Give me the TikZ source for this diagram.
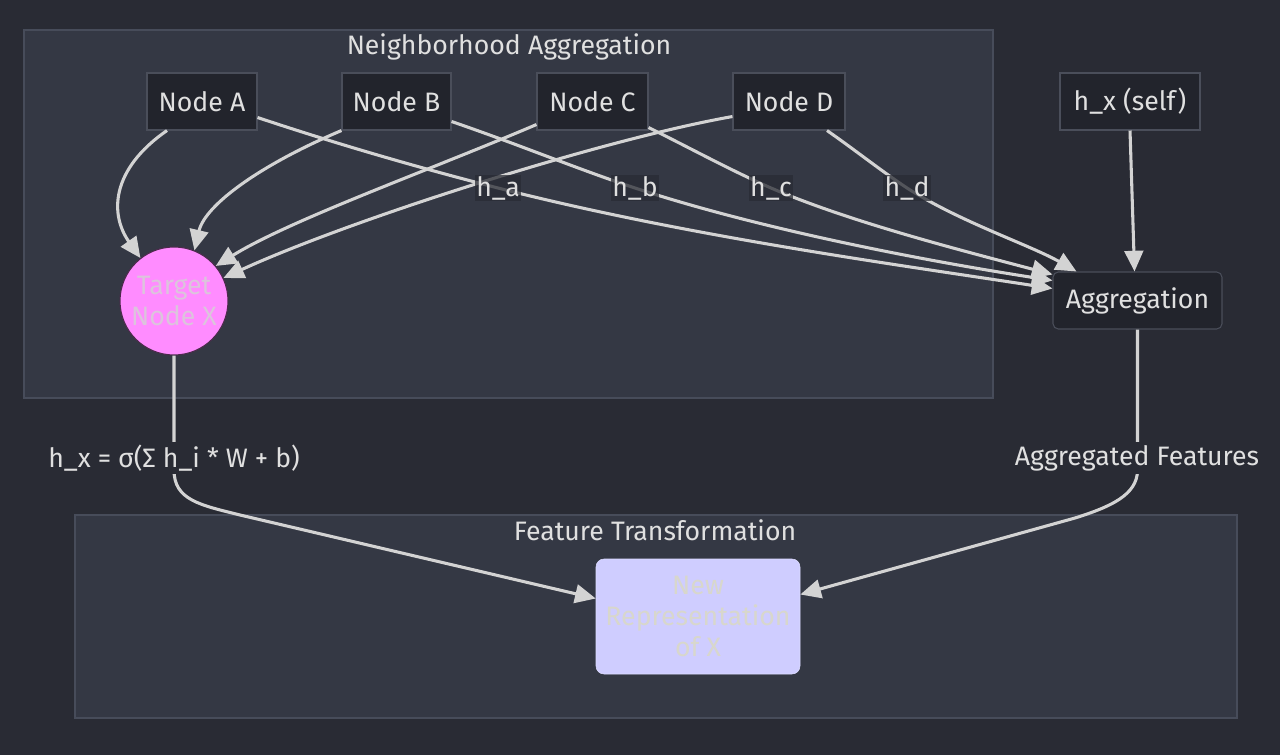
\documentclass[tikz,border=0pt]{standalone}
\usepackage{fontspec}
\setmainfont{Fira Sans}
\usetikzlibrary{arrows.meta,calc}
\definecolor{bgc}{HTML}{292B34}
\definecolor{clfill}{HTML}{343844}
\definecolor{cldraw}{HTML}{474C5A}
\definecolor{ndfill}{HTML}{22242C}
\definecolor{nddraw}{HTML}{4A4E5A}
\definecolor{edgec}{HTML}{D3D3D3}
\definecolor{txtc}{HTML}{E0E0E0}
\definecolor{pinkc}{HTML}{FF8CFF}
\definecolor{pinktxt}{HTML}{DCC4DC}
\definecolor{lavc}{HTML}{CFCDFF}
\definecolor{lavtxt}{HTML}{D8D7CC}
\begin{document}
\begin{tikzpicture}[x=0.75pt,y=-0.75pt,
  txt/.style={font=\fontsize{20}{23}\selectfont, text=txtc},
  nbox/.style={txt, draw=nddraw, fill=ndfill, line width=0.8pt, inner sep=0pt, minimum height=42.75pt},
  rbox/.style={nbox, rounded corners=4pt},
  elabel/.style={txt, fill=bgc, fill opacity=0.75, text opacity=1, inner sep=1pt},
  flabel/.style={txt, fill=bgc, inner sep=2pt},
  edge/.style={draw=edgec, line width=2.3pt, -{Triangle[length=15.5pt,width=14pt]}},
  cluster/.style={draw=cldraw, fill=clfill, line width=0.8pt}]
\useasboundingbox (0,0) rectangle (1280,755);
\fill[bgc] (0,0) rectangle (1280,755);
% clusters
\draw[cluster] (24,30) rectangle (993,398);
\node[txt] (t1) at (509,47) {Neighborhood Aggregation};
\draw[cluster] (75,515) rectangle (1237,718);
\node[txt] (t2) at (655,530) {Feature Transformation};
% nodes
\node[nbox, minimum width=82.5pt] (A) at (202,101.5) {Node A};
\node[nbox, minimum width=81.75pt] (B) at (396.5,101.5) {Node B};
\node[nbox, minimum width=83.25pt] (C) at (592.5,101.5) {Node C};
\node[nbox, minimum width=84pt] (D) at (789,101.5) {Node D};
\node[nbox, minimum width=105pt] (hx) at (1130,101.5) {h\_x (self)};
\node[rbox, minimum width=126.75pt] (Agg) at (1137.5,300.5) {Aggregation};
\node[circle, draw=black!70!pinkc, line width=0.8pt, fill=pinkc, minimum size=81pt, inner sep=0pt,
  font=\fontsize{20}{23}\selectfont, text=pinktxt, align=center] (X) at (174,301) {Target\\Node X};
\node[draw=lavc!70!white, fill=lavc, rounded corners=6pt, minimum width=153pt, minimum height=86.25pt,
  inner sep=0pt, font=\fontsize{20}{23}\selectfont, text=lavtxt, align=center] (NR) at (698,616.5) {New\\Representation\\of X};
% label anchor points
\coordinate (ma) at (498,188);
\coordinate (mb) at (635,188);
\coordinate (mc) at (771,188);
\coordinate (md) at (907,188);
% edges to X
\draw[edge] ($(A.south)+(-35,0)$) .. controls (110,170) and (110,215) .. (X.128);
\draw[edge] (B.south west) .. controls (260,165) and (205,205) .. (X.68);
\draw[edge] ($(C.south west)+(0,-6)$) .. controls (430,170) and (290,220) .. (X.40);
\draw[edge] ($(D.south west)+(0,-14)$) .. controls (600,140) and (350,220) .. (X.25);
% edges to Agg
\draw[edge] ($(A.east)+(0,16)$) .. controls (340,145) and (420,168) .. (ma)
   .. controls (690,237) and (900,265) .. ($(Agg.west)+(0,-12)$);
\draw[edge] ($(B.east)+(0,20)$) .. controls (520,145) and (580,170) .. (mb)
   .. controls (760,229) and (920,260) .. ($(Agg.west)+(0,-20)$);
\draw[edge] ($(C.south east)+(0,-3)$) .. controls (690,148) and (730,170) .. (mc)
   .. controls (850,222) and (960,250) .. ($(Agg.west)+(0,-26)$);
\draw[edge] ($(D.south)+(38,0)$) .. controls (855,150) and (880,170) .. (md)
   .. controls (960,222) and (1030,245) .. ($(Agg.north west)+(24,0)$);
\draw[edge] (hx.south) -- ($(Agg.north)+(-3,0)$);
% edges to NR
\coordinate (xb) at (174,470);
\coordinate (xc) at (240,515);
\draw[edge] (X.south) -- (xb) .. controls (174,500) and (200,505) .. (xc) -- ($(NR.west)+(0,-18)$);
\coordinate (ab) at (1137.5,470);
\coordinate (ac) at (1075,518);
\draw[edge] (Agg.south) -- (ab) .. controls (1137.5,495) and (1110,507) .. (ac) -- ($(NR.east)+(0,-22)$);
% labels
\node[elabel] (la) at (ma) {h\_a};
\node[elabel] (lb) at (mb) {h\_b};
\node[elabel] (lc) at (mc) {h\_c};
\node[elabel] (ld) at (md) {h\_d};
\node[flabel] (lx) at (174,458) {h\_x = σ(Σ h\_i * W + b)};
\node[flabel] (lg) at (1137,458) {Aggregated Features};
\end{tikzpicture}
\end{document}
